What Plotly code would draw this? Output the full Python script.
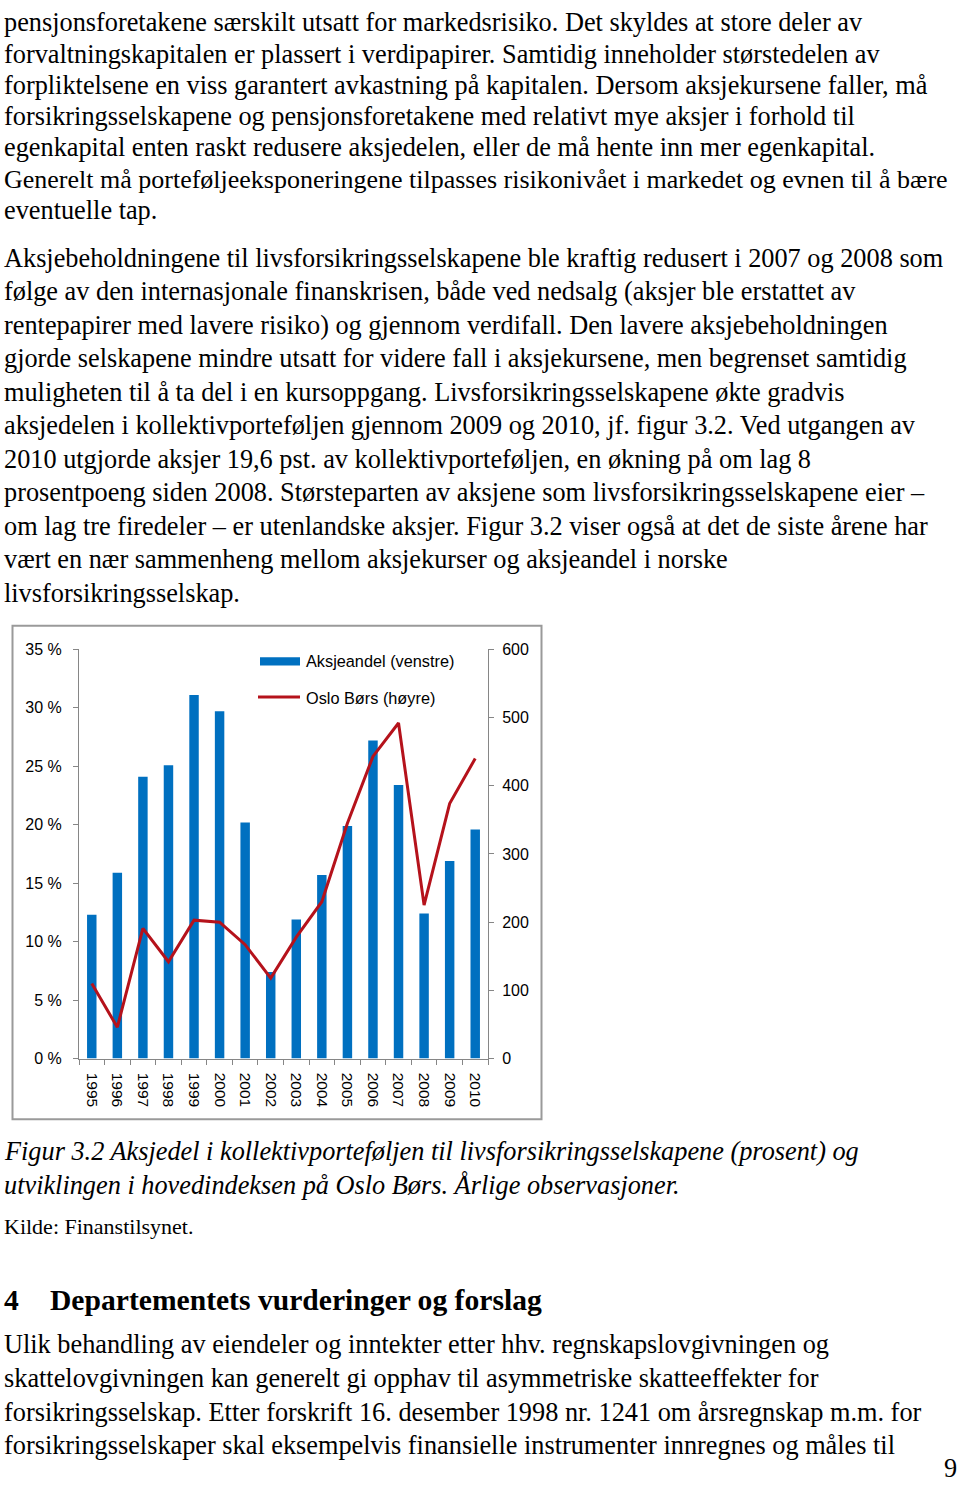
import plotly.graph_objects as go

# ---------------- data ----------------
years = [str(y) for y in range(1995, 2011)]
aksjeandel = [12.3, 15.9, 24.1, 25.1, 31.1, 29.7, 20.2, 7.4, 11.9, 15.7,
              19.9, 27.2, 23.4, 12.4, 16.9, 19.6]          # prosent (venstre akse)
oslo_bors = [110, 46, 191, 142, 203, 200, 167, 118, 178, 230,
             345, 443, 492, 225, 374, 440]                  # indeks (høyre akse)
left_ticks = [0, 5, 10, 15, 20, 25, 30, 35]
left_tick_labels = [f"{v} %" for v in left_ticks]
right_ticks = [0, 100, 200, 300, 400, 500, 600]

legend_labels = ["Aksjeandel (venstre)", "Oslo Børs (høyre)"]

para1 = [
    "pensjonsforetakene særskilt utsatt for markedsrisiko. Det skyldes at store deler av",
    "forvaltningskapitalen er plassert i verdipapirer. Samtidig inneholder størstedelen av",
    "forpliktelsene en viss garantert avkastning på kapitalen. Dersom aksjekursene faller, må",
    "forsikringsselskapene og pensjonsforetakene med relativt mye aksjer i forhold til",
    "egenkapital enten raskt redusere aksjedelen, eller de må hente inn mer egenkapital.",
    "Generelt må porteføljeeksponeringene tilpasses risikonivået i markedet og evnen til å bære",
    "eventuelle tap.",
]
para2 = [
    "Aksjebeholdningene til livsforsikringsselskapene ble kraftig redusert i 2007 og 2008 som",
    "følge av den internasjonale finanskrisen, både ved nedsalg (aksjer ble erstattet av",
    "rentepapirer med lavere risiko) og gjennom verdifall. Den lavere aksjebeholdningen",
    "gjorde selskapene mindre utsatt for videre fall i aksjekursene, men begrenset samtidig",
    "muligheten til å ta del i en kursoppgang. Livsforsikringsselskapene økte gradvis",
    "aksjedelen i kollektivporteføljen gjennom 2009 og 2010, jf. figur 3.2. Ved utgangen av",
    "2010 utgjorde aksjer 19,6 pst. av kollektivporteføljen, en økning på om lag 8",
    "prosentpoeng siden 2008. Størsteparten av aksjene som livsforsikringsselskapene eier –",
    "om lag tre firedeler – er utenlandske aksjer. Figur 3.2 viser også at det de siste årene har",
    "vært en nær sammenheng mellom aksjekurser og aksjeandel i norske",
    "livsforsikringsselskap.",
]
caption = [
    "Figur 3.2 Aksjedel i kollektivporteføljen til livsforsikringsselskapene (prosent) og",
    "utviklingen i hovedindeksen på Oslo Børs. Årlige observasjoner.",
]
source = "Kilde: Finanstilsynet."
heading_num = "4"
heading = "Departementets vurderinger og forslag"
para3 = [
    "Ulik behandling av eiendeler og inntekter etter hhv. regnskapslovgivningen og",
    "skattelovgivningen kan generelt gi opphav til asymmetriske skatteeffekter for",
    "forsikringsselskap. Etter forskrift 16. desember 1998 nr. 1241 om årsregnskap m.m. for",
    "forsikringsselskaper skal eksempelvis finansielle instrumenter innregnes og måles til",
]
page_number = "9"

# ---------------- layout helpers ----------------
W, H = 960, 1487
# empirical correction of the vertical placement seen in the rendered page
VS, VO = 0.988, 7.0
def px(x):
    return x / W
def Y(y):
    return (y - VO) / VS
def py(y):
    return 1 - Y(y) / H

BLUE = "#0070C0"
RED = "#B5121B"
AXIS = "#868686"
SANS = "Liberation Sans, Arial, sans-serif"
SERIF = "Liberation Serif, Times New Roman, serif"
BODY_SIZE = 26.3

fig = go.Figure()
fig.add_trace(go.Bar(x=years, y=aksjeandel, marker_color=BLUE, marker_line_width=0,
                     name=legend_labels[0], showlegend=False, yaxis="y"))
fig.add_trace(go.Scatter(x=years, y=oslo_bors, mode="lines", line=dict(color=RED, width=3),
                         name=legend_labels[1], showlegend=False, yaxis="y2"))

plot_l, plot_r, plot_t, plot_b = 79, 488, 648, 1057

fig.update_layout(
    width=W, height=H,
    margin=dict(l=0, r=0, t=0, b=0),
    paper_bgcolor="white", plot_bgcolor="white",
    bargap=0.63,
    xaxis=dict(domain=[px(plot_l), px(plot_r)], type="category",
               showline=True, linecolor=AXIS, linewidth=1,
               ticks="outside", tickson="boundaries", ticklen=5, tickcolor=AXIS,
               tickangle=90, tickfont=dict(family=SANS, size=15.5, color="black"),
               ticklabelstandoff=10,
               showgrid=False, zeroline=False, fixedrange=True),
    yaxis=dict(domain=[py(plot_b), py(plot_t)], range=[0, 35],
               tickvals=left_ticks, ticktext=left_tick_labels,
               showline=True, linecolor=AXIS, linewidth=1,
               ticks="outside", ticklen=5, tickcolor=AXIS,
               tickfont=dict(family=SANS, size=16, color="black"),
               ticklabelstandoff=8,
               showgrid=False, zeroline=False),
    yaxis2=dict(overlaying="y", side="right", range=[0, 600],
                tickvals=right_ticks,
                showline=True, linecolor=AXIS, linewidth=1,
                ticks="outside", ticklen=5, tickcolor=AXIS,
                tickfont=dict(family=SANS, size=16, color="black"),
                ticklabelstandoff=5,
                showgrid=False, zeroline=False),
)

shapes = []
# chart frame
shapes.append(dict(type="rect", xref="paper", yref="paper",
                   x0=px(12.5), x1=px(541.5), y0=py(1117.5), y1=py(624.5),
                   line=dict(color="#9A9A9A", width=2), fillcolor="rgba(0,0,0,0)", layer="below"))
# legend swatches
shapes.append(dict(type="rect", xref="paper", yref="paper",
                   x0=px(260), x1=px(300), y0=py(664), y1=py(656),
                   line=dict(width=0), fillcolor=BLUE))
shapes.append(dict(type="line", xref="paper", yref="paper",
                   x0=px(258), x1=px(300), y0=py(695.5), y1=py(695.5),
                   line=dict(color=RED, width=3)))

ann = []
def text(x, baseline, s, size=BODY_SIZE, family=SERIF, anchor="left", k=0.3375, raw=False):
    # place an annotation so that its text baseline lands at `baseline` (pixels)
    yc = (baseline if raw else Y(baseline)) - k * size
    ann.append(dict(x=px(x), y=1 - yc / H, xref="paper", yref="paper", text=s, showarrow=False,
                    xanchor=anchor, yanchor="middle",
                    font=dict(family=family, size=size, color="black")))

text(304, 665.5, legend_labels[0], size=16.3, family=SANS, k=0.3465)
text(304, 702.5, legend_labels[1], size=16.3, family=SANS, k=0.3465)

# first paragraph: keep the first line fully inside the page
p1_first, p1_last = 30.5, 218
p1_step = (p1_last - p1_first) / (len(para1) - 1)
for i, s in enumerate(para1):
    text(2, p1_first + p1_step * i, s, size=(26.0 if i == 5 else BODY_SIZE))
for i, s in enumerate(para2):
    text(2, 266 + 33.45 * i, s)
for s, b in zip(caption, [1159, 1193]):
    text(2, b, f"<i>{s}</i>")
text(2, 1232, source, size=22)
text(2, 1308, f"<b>{heading_num}</b>", size=29.6)
text(48, 1308, f"<b>{heading}</b>", size=29.6)
for i, s in enumerate(para3):
    text(2, 1352 + 33.6 * i, s)
text(959, 1486, page_number, anchor="right", raw=True)

fig.update_layout(shapes=shapes, annotations=ann)

fig.write_html("out.html", config={"displayModeBar": False},
               post_script="document.body.style.margin='0';document.body.style.overflow='hidden';")
